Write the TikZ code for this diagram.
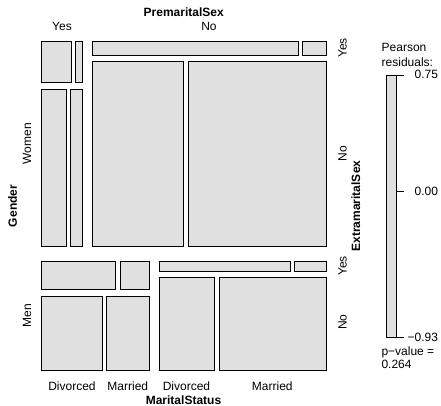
\documentclass[tikz,border=0pt]{standalone}
\usepackage{fontspec}
\setmainfont{Liberation Sans}
\definecolor{tilegray}{RGB}{224,224,224}
\begin{document}
\begin{tikzpicture}[x=1pt,y=-1pt,
  tile/.style={draw=black,fill=tilegray,line width=0.8pt},
  lbl/.style={inner sep=0pt,font=\fontsize{12}{14}\selectfont},
  blbl/.style={inner sep=0pt,font=\fontsize{12}{14}\selectfont\bfseries},
  tick/.style={draw=black,line width=0.8pt}]
\useasboundingbox (0,0) rectangle (441,406);
% Women, premarital Yes
\draw[tile] (41.3,41.3) rectangle (71,82.7);
\draw[tile] (75.3,41.3) rectangle (82.3,82.7);
\draw[tile] (41.3,89.3) rectangle (66.3,246);
\draw[tile] (70.7,89.3) rectangle (82.3,246);
% Women, premarital No
\draw[tile] (92.3,41.3) rectangle (298.7,55);
\draw[tile] (302.3,41.3) rectangle (326,55);
\draw[tile] (92.3,61.7) rectangle (183.7,246);
\draw[tile] (188.3,61.7) rectangle (326,246);
% Men, premarital Yes
\draw[tile] (41.3,261) rectangle (115.7,289.3);
\draw[tile] (120,261) rectangle (149,289.3);
\draw[tile] (41.3,296) rectangle (102.3,370);
\draw[tile] (106.7,296) rectangle (149,370);
% Men, premarital No
\draw[tile] (159,261) rectangle (290.7,271);
\draw[tile] (294.7,261) rectangle (326,271);
\draw[tile] (159,277.3) rectangle (214.7,370);
\draw[tile] (219,277.3) rectangle (326,370);
% top labels
\node[blbl] (pms) at (183.7,12) {PremaritalSex};
\node[lbl] (pmy) at (62,26.5) {Yes};
\node[lbl] (pmn) at (209,26.5) {No};
% left labels
\node[blbl,rotate=90] (gen) at (12.5,206) {Gender};
\node[lbl,rotate=90] (wom) at (27,143.7) {Women};
\node[lbl,rotate=90] (men) at (27,315.5) {Men};
% right labels
\node[lbl,rotate=90] (ey1) at (342.5,48) {Yes};
\node[lbl,rotate=90] (en1) at (342.5,153.8) {No};
\node[blbl,rotate=90] (ems) at (355.8,206) {ExtramaritalSex};
\node[lbl,rotate=90] (ey2) at (342.5,266) {Yes};
\node[lbl,rotate=90] (en2) at (342.5,322) {No};
% bottom labels
\node[lbl] (d1) at (72,386) {Divorced};
\node[lbl] (m1) at (127.8,386) {Married};
\node[lbl] (d2) at (186.5,386) {Divorced};
\node[lbl] (m2) at (272.3,386) {Married};
\node[blbl] (mst) at (183.5,400) {MaritalStatus};
% legend
\node[lbl,anchor=base west] (lg1) at (381.5,51.7) {Pearson};
\node[lbl,anchor=base west] (lg2) at (381.5,66.5) {residuals:};
\draw[tile] (386,75) rectangle (396,337.3);
\draw[tick] (396,75) -- (403.5,75);
\draw[tick] (396,191.5) -- (403.5,191.5);
\draw[tick] (396,337.3) -- (403.5,337.3);
\node[lbl,anchor=west] (t1) at (414.5,74.5) {0.75};
\node[lbl,anchor=west] (t2) at (414.5,191.5) {0.00};
\node[lbl,anchor=west] (t3) at (407.5,337.3) {−0.93};
\node[lbl,anchor=base west] (pv1) at (381.3,355) {p−value =};
\node[lbl,anchor=base west] (pv2) at (381.3,368.3) {0.264};
\end{tikzpicture}
\end{document}
